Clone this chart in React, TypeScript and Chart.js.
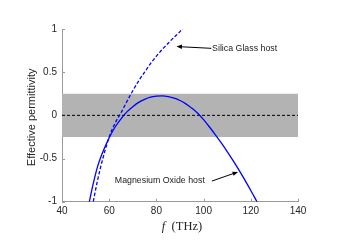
import React, { useEffect, useRef } from "react";
import { Chart, registerables } from "chart.js";

Chart.register(...registerables);

// ---- data ----
const xTicks = [40, 60, 80, 100, 120, 140];
const yTicks = [-1, -0.5, 0, 0.5, 1];
const yTickLabels = ["-1", "-0.5", "0", "0.5", "1"];

const bandLimits = [-0.25, 0.25];
const zeroLine = [0, 0];
const bandFreq = [40, 140];

const mgoFreq = [51.2, 53, 55, 57.5, 60, 62.5, 65, 67.5, 70, 72.5, 75, 77.5, 80, 82.5, 85, 87.5, 90, 92.5, 95, 97.5, 100, 102.5, 105, 107.5, 110, 112.5, 115, 117.5, 120, 122.5, 124];
const mgoEps = [-1.05, -0.82, -0.6, -0.41, -0.26, -0.135, -0.04, 0.04, 0.1, 0.15, 0.185, 0.21, 0.222, 0.225, 0.217, 0.2, 0.172, 0.133, 0.083, 0.025, -0.05, -0.135, -0.225, -0.32, -0.42, -0.525, -0.635, -0.75, -0.87, -0.995, -1.07];

const silicaFreq = [52.8, 55, 57.5, 60, 62.5, 65, 67.5, 70, 72.5, 75, 77.5, 80, 82.5, 85, 87.5, 90, 92];
const silicaEps = [-1.06, -0.76, -0.48, -0.25, -0.09, 0.03, 0.16, 0.285, 0.4, 0.5, 0.6, 0.685, 0.765, 0.835, 0.905, 0.97, 1.03];

const silicaLabel = "Silica Glass host";
const mgoLabel = "Magnesium Oxide host";
const yTitle = "Effective permittivity";
const xTitleVar = "f";
const xTitleUnit = "(THz)";

const SANS = "'Liberation Sans', Arial, Helvetica, sans-serif";
const SERIF = "'Liberation Serif', 'Times New Roman', serif";

function pts(xs: number[], ys: number[]) {
  return xs.map((x, i) => ({ x, y: ys[i] }));
}

const overlayPlugin = {
  id: "overlay",
  beforeDatasetsDraw(chart: any) {
    const { ctx, chartArea, scales } = chart;
    const xs = scales.x;
    const ys = scales.y;
    ctx.save();
    ctx.strokeStyle = "#9a9a9a";
    ctx.lineWidth = 1;
    ctx.beginPath();
    xTicks.forEach((v) => {
      const px = Math.round(xs.getPixelForValue(v)) + 0.5;
      ctx.moveTo(px, chartArea.bottom);
      ctx.lineTo(px, chartArea.bottom - 3);
    });
    yTicks.forEach((v) => {
      const py = Math.round(ys.getPixelForValue(v)) + 0.5;
      ctx.moveTo(chartArea.left, py);
      ctx.lineTo(chartArea.left + 3, py);
    });
    ctx.stroke();
    ctx.restore();
  },
  afterDraw(chart: any) {
    const { ctx, chartArea, scales } = chart;
    const xs = scales.x;
    const ys = scales.y;
    ctx.save();
    ctx.fillStyle = "#262626";
    // y title
    ctx.save();
    ctx.translate(32, (chartArea.top + chartArea.bottom) / 2 + 2);
    ctx.rotate(-Math.PI / 2);
    ctx.font = `11px ${SANS}`;
    ctx.textAlign = "center";
    ctx.textBaseline = "middle";
    ctx.fillText(yTitle, 0, 0);
    ctx.restore();

    // x title
    ctx.textBaseline = "middle";
    ctx.textAlign = "left";
    ctx.font = `italic 12.5px ${SERIF}`;
    const w1 = ctx.measureText(xTitleVar + "  ").width;
    ctx.font = `12.5px ${SERIF}`;
    const w2 = ctx.measureText(xTitleUnit).width;
    const cx = (chartArea.left + chartArea.right) / 2 + 2;
    const startX = cx - (w1 + w2) / 2;
    ctx.font = `italic 12.5px ${SERIF}`;
    ctx.fillText(xTitleVar, startX, 226.5);
    ctx.font = `12.5px ${SERIF}`;
    ctx.fillText(xTitleUnit, startX + w1, 226.5);

    // annotations
    ctx.font = `8.8px ${SANS}`;
    ctx.fillStyle = "#1a1a1a";
    ctx.textBaseline = "middle";
    ctx.textAlign = "left";
    ctx.fillText(silicaLabel, xs.getPixelForValue(103.6), ys.getPixelForValue(0.768));
    ctx.fillText(mgoLabel, xs.getPixelForValue(62.4), ys.getPixelForValue(-0.761));

    const arrow = (x0: number, y0: number, x1: number, y1: number) => {
      const ax0 = xs.getPixelForValue(x0);
      const ay0 = ys.getPixelForValue(y0);
      const ax1 = xs.getPixelForValue(x1);
      const ay1 = ys.getPixelForValue(y1);
      const ang = Math.atan2(ay1 - ay0, ax1 - ax0);
      const hl = 5.5;
      const hw = 2.2;
      ctx.strokeStyle = "#000";
      ctx.lineWidth = 1;
      ctx.beginPath();
      ctx.moveTo(ax0, ay0);
      ctx.lineTo(ax1 - Math.cos(ang) * hl * 0.8, ay1 - Math.sin(ang) * hl * 0.8);
      ctx.stroke();
      ctx.fillStyle = "#000";
      ctx.beginPath();
      ctx.moveTo(ax1, ay1);
      ctx.lineTo(ax1 - Math.cos(ang) * hl - Math.sin(ang) * hw, ay1 - Math.sin(ang) * hl + Math.cos(ang) * hw);
      ctx.lineTo(ax1 - Math.cos(ang) * hl + Math.sin(ang) * hw, ay1 - Math.sin(ang) * hl - Math.cos(ang) * hw);
      ctx.closePath();
      ctx.fill();
    };
    arrow(103.3, 0.776, 88.5, 0.797);
    arrow(103.5, -0.761, 114.6, -0.655);
    ctx.restore();
  },
};

export default function App() {
  const ref = useRef<HTMLCanvasElement | null>(null);
  useEffect(() => {
    if (!ref.current) return;
    Chart.defaults.font.family = SANS;
    const chart = new Chart(ref.current, {
      type: "line",
      data: {
        datasets: [
          {
            label: "band",
            data: pts(bandFreq, [bandLimits[1], bandLimits[1]]),
            fill: { value: bandLimits[0] },
            backgroundColor: "#b3b3b3",
            borderWidth: 0,
            borderColor: "rgba(0,0,0,0)",
            pointRadius: 0,
            order: 4,
          },
          {
            label: "zero",
            data: pts(bandFreq, zeroLine),
            borderColor: "#000",
            borderWidth: 1,
            borderDash: [3, 2],
            pointRadius: 0,
            fill: false,
            order: 3,
          },
          {
            label: "Magnesium Oxide host",
            data: pts(mgoFreq, mgoEps),
            borderColor: "#0000ff",
            borderWidth: 1.3,
            pointRadius: 0,
            fill: false,
            cubicInterpolationMode: "monotone",
            order: 2,
          },
          {
            label: "Silica Glass host",
            data: pts(silicaFreq, silicaEps),
            borderColor: "#0000ff",
            borderWidth: 1.3,
            borderDash: [3.5, 2],
            pointRadius: 0,
            fill: false,
            cubicInterpolationMode: "monotone",
            order: 1,
          },
        ],
      },
      options: {
        animation: false,
        responsive: false,
        events: [],
        layout: { padding: { top: 29, right: 52, left: 0, bottom: 0 } },
        plugins: {
          legend: { display: false },
          tooltip: { enabled: false },
        },
        scales: {
          x: {
            type: "linear",
            min: 40,
            max: 140,
            afterBuildTicks: (s: any) => {
              s.ticks = xTicks.map((v) => ({ value: v }));
            },
            ticks: {
              color: "#262626",
              font: { size: 10, family: SANS },
              padding: 4,
              maxRotation: 0,
              callback: (v: any) => String(v),
            },
            grid: { display: false, drawTicks: false },
            border: { display: true, color: "#9a9a9a", width: 1 },
            afterFit: (s: any) => {
              s.height = 43.3;
            },
          },
          y: {
            type: "linear",
            min: -1,
            max: 1,
            afterBuildTicks: (s: any) => {
              s.ticks = yTicks.map((v) => ({ value: v }));
            },
            ticks: {
              color: "#262626",
              font: { size: 10, family: SANS },
              padding: 5,
              callback: (v: any) => {
                const i = yTicks.indexOf(Number(v));
                return i >= 0 ? yTickLabels[i] : "";
              },
            },
            grid: { display: false, drawTicks: false },
            border: { display: true, color: "#9a9a9a", width: 1 },
            afterFit: (s: any) => {
              s.width = 62;
            },
          },
        },
      },
      plugins: [overlayPlugin],
    } as any);
    return () => chart.destroy();
  }, []);
  return (
    <div style={{ position: "fixed", left: 0, top: 0, width: 350, height: 245, background: "#fff" }}>
      <canvas ref={ref} width={350} height={245} />
    </div>
  );
}
